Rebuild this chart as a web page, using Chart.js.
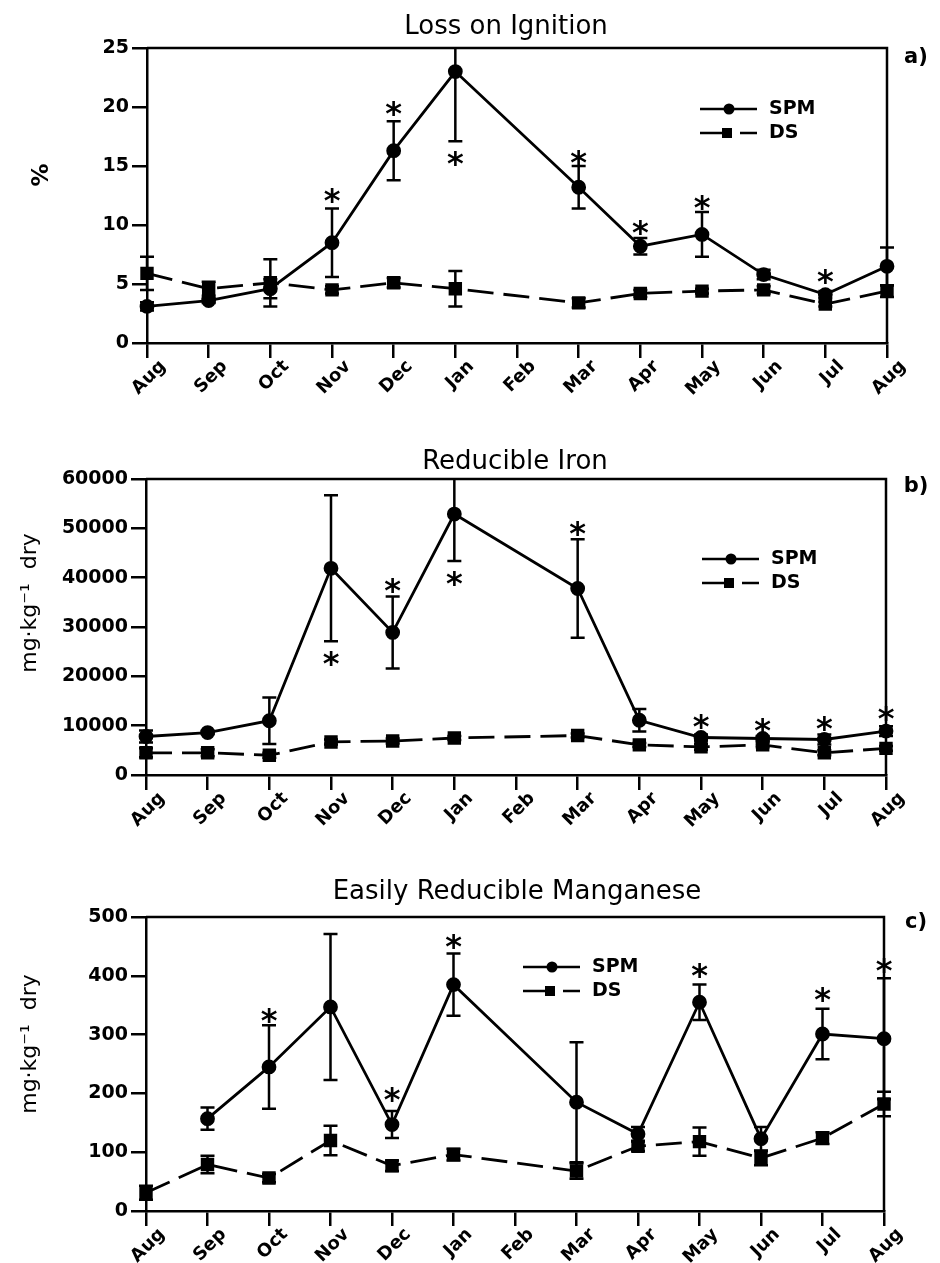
<!DOCTYPE html>
<html>
<head>
<meta charset="utf-8">
<script src="https://cdn.jsdelivr.net/npm/chart.js@4.4.0/dist/chart.umd.min.js"></script>
<style>
  html, body { margin: 0; padding: 0; background: #fff; }
  #wrap { position: relative; width: 940px; height: 1263px; }
  canvas { position: absolute; left: 0; }
</style>
</head>
<body>
<div id="wrap">
  <canvas id="lossChart" width="940" height="415" style="top:0px"></canvas>
  <canvas id="ironChart" width="940" height="420" style="top:415px"></canvas>
  <canvas id="mnChart" width="940" height="428" style="top:835px"></canvas>
</div>
<script>
const months = ['Aug', 'Sep', 'Oct', 'Nov', 'Dec', 'Jan', 'Feb', 'Mar', 'Apr', 'May', 'Jun', 'Jul', 'Aug'];

// a) loss on ignition (%)
const lossSpm    = [3.1, 3.6, 4.6, 8.5, 16.3, 23.0, null, 13.2, 8.2, 9.2, 5.8, 4.1, 6.5];
const lossSpmErr = [0.35, 0.2, 0.8, 2.9, 2.5, 5.9, null, 1.8, 0.7, 1.9, 0.4, 0.3, 1.6];
const lossDs     = [5.9, 4.6, 5.1, 4.5, 5.1, 4.6, null, 3.4, 4.2, 4.4, 4.5, 3.3, 4.4];
const lossDsErr  = [1.4, 0.6, 2.0, 0.3, 0.4, 1.5, null, 0.4, 0.3, 0.2, 0.3, 0.2, 0.5];
const lossStars  = [null, null, null, 12.5, 19.9, 15.6, null, 15.7, 9.8, 11.9, null, 5.6, null];

// b) reducible iron (mg/kg dry)
const ironSpm    = [7800, 8600, 11000, 41900, 28900, 52900, null, 37800, 11100, 7600, 7400, 7200, 8900];
const ironSpmErr = [1200, 300, 4700, 14800, 7300, 9500, null, 10000, 2300, 600, 500, 1000, 1000];
const ironDs     = [4500, 4500, 4000, 6700, 6900, 7500, null, 8000, 6100, 5700, 6100, 4500, 5400];
const ironDsErr  = [900, 700, 500, 500, 500, 400, null, 400, 400, 600, 500, 500, 500];
const ironStars  = [null, null, null, 23600, 38400, 39800, null, 49900, null, 10800, 10100, 10500, 12500];

// c) easily reducible manganese (mg/kg dry)
const mnSpm    = [null, 157, 245, 347, 147, 385, null, 185, 131, 355, 123, 301, 293];
const mnSpmErr = [null, 19, 71, 124, 23, 53, null, 102, 12, 30, 20, 43, 103];
const mnDs     = [31, 79, 56, 120, 77, 96, null, 68, 110, 118, 90, 124, 182];
const mnDsErr  = [12, 15, 7, 25, 9, 10, null, 13, 8, 24, 12, 10, 21];
const mnStars  = [null, null, 333, null, 198, 459, null, null, null, 409, null, 368, 418];

Chart.defaults.font.family = "'DejaVu Sans', sans-serif";
Chart.defaults.color = '#000';

const black = '#000';

const errorBars = {
  id: 'errorBars',
  afterDatasetsDraw(chart) {
    const { ctx, chartArea, scales: { x, y } } = chart;
    ctx.save();
    ctx.beginPath();
    ctx.rect(chartArea.left - 12, chartArea.top, chartArea.width + 24, chartArea.height);
    ctx.clip();
    ctx.strokeStyle = black;
    ctx.lineWidth = 2.5;
    chart.data.datasets.forEach(ds => {
      if (!ds.err) return;
      ds.data.forEach((v, i) => {
        const e = ds.err[i];
        if (v == null || e == null) return;
        const px = x.getPixelForValue(i);
        const top = y.getPixelForValue(v + e);
        const bot = y.getPixelForValue(v - e);
        ctx.beginPath();
        ctx.moveTo(px, top); ctx.lineTo(px, bot);
        ctx.moveTo(px - 7, top); ctx.lineTo(px + 7, top);
        ctx.moveTo(px - 7, bot); ctx.lineTo(px + 7, bot);
        ctx.stroke();
      });
    });
    ctx.restore();
  }
};

function makePanel(id, cfg) {
  const decor = {
    id: 'decor',
    afterDraw(chart) {
      const { ctx, chartArea, scales: { x, y } } = chart;
      ctx.save();
      // frame top + right
      ctx.strokeStyle = black;
      ctx.lineWidth = 2.5;
      ctx.beginPath();
      ctx.moveTo(chartArea.left, chartArea.top);
      ctx.lineTo(chartArea.right, chartArea.top);
      ctx.lineTo(chartArea.right, chartArea.bottom);
      ctx.stroke();

      ctx.fillStyle = black;
      // significance stars
      ctx.font = "bold 32px 'DejaVu Sans'";
      ctx.textAlign = 'center';
      ctx.textBaseline = 'alphabetic';
      const m = ctx.measureText('*');
      const shift = (m.actualBoundingBoxAscent - m.actualBoundingBoxDescent) / 2;
      cfg.stars.forEach((s, i) => {
        if (s == null) return;
        ctx.fillText('*', x.getPixelForValue(i), y.getPixelForValue(s) + shift);
      });

      // panel title
      ctx.textBaseline = 'middle';
      ctx.font = "26px 'DejaVu Sans'";
      ctx.fillText(cfg.title, cfg.titleX, cfg.titleY);

      // panel letter
      ctx.font = "bold 21px 'DejaVu Sans'";
      ctx.fillText(cfg.letter, 916, cfg.letterY);

      // y axis title
      ctx.save();
      ctx.translate(cfg.yTitleX, cfg.yTitleY);
      ctx.rotate(-Math.PI / 2);
      ctx.font = cfg.yTitleFont;
      ctx.fillText(cfg.yTitle, 0, 0);
      ctx.restore();

      // legend
      const lx = cfg.legendX, l1 = cfg.legendY, l2 = cfg.legendY + 24;
      ctx.lineWidth = 2.5;
      ctx.beginPath();
      ctx.moveTo(lx, l1); ctx.lineTo(lx + 57, l1);
      ctx.moveTo(lx, l2); ctx.lineTo(lx + 27, l2);
      ctx.moveTo(lx + 40, l2); ctx.lineTo(lx + 57, l2);
      ctx.stroke();
      ctx.beginPath();
      ctx.arc(lx + 29, l1, 5.5, 0, Math.PI * 2);
      ctx.fill();
      ctx.fillRect(lx + 22, l2 - 5, 10, 10);
      ctx.font = "bold 19px 'DejaVu Sans'";
      ctx.textAlign = 'left';
      ctx.fillText('SPM', lx + 69, l1);
      ctx.fillText('DS', lx + 69, l2);
      ctx.restore();
    }
  };

  const axisGrid = {
    display: true,
    drawOnChartArea: false,
    drawTicks: true,
    tickLength: 15,
    tickWidth: 2.5,
    color: black,
    lineWidth: 2.5
  };

  return new Chart(document.getElementById(id), {
    type: 'line',
    data: {
      labels: months,
      datasets: [
        {
          label: 'SPM',
          data: cfg.spm,
          err: cfg.spmErr,
          borderColor: black,
          backgroundColor: black,
          borderWidth: 2.8,
          pointStyle: 'circle',
          pointRadius: 6,
          spanGaps: true,
          tension: 0
        },
        {
          label: 'DS',
          data: cfg.ds,
          err: cfg.dsErr,
          borderColor: black,
          backgroundColor: black,
          borderWidth: 2.8,
          borderDash: [26, 10],
          pointStyle: 'rect',
          pointRadius: 7.5,
          spanGaps: true,
          tension: 0
        }
      ]
    },
    options: {
      responsive: false,
      animation: false,
      layout: { padding: { top: cfg.padTop, right: cfg.padRight, left: 0, bottom: 0 } },
      plugins: {
        legend: { display: false },
        tooltip: { enabled: false },
        title: { display: false }
      },
      scales: {
        x: {
          type: 'category',
          offset: false,
          grid: axisGrid,
          border: { display: true, color: black, width: 2.5 },
          ticks: {
            autoSkip: false,
            minRotation: 45,
            maxRotation: 45,
            padding: -2,
            labelOffset: 16,
            font: { size: 18, weight: 'bold' }
          },
          afterFit: s => { s.height = cfg.xAxisHeight; }
        },
        y: {
          min: 0,
          max: cfg.yMax,
          grid: axisGrid,
          border: { display: true, color: black, width: 2.5 },
          ticks: {
            stepSize: cfg.yStep,
            padding: 3,
            font: { size: 19, weight: 'bold' },
            callback: v => String(v)
          },
          afterFit: s => { s.width = cfg.yAxisWidth; }
        }
      }
    },
    plugins: [errorBars, decor]
  });
}

makePanel('lossChart', {
  spm: lossSpm, spmErr: lossSpmErr, ds: lossDs, dsErr: lossDsErr, stars: lossStars,
  yMax: 25, yStep: 5,
  title: 'Loss on Ignition', titleX: 506, titleY: 27,
  letter: 'a)', letterY: 58,
  yTitle: '%', yTitleX: 42, yTitleY: 175, yTitleFont: "bold 23px 'DejaVu Sans'",
  legendX: 700, legendY: 109,
  padTop: 48, padRight: 53, xAxisHeight: 72, yAxisWidth: 147
});

makePanel('ironChart', {
  spm: ironSpm, spmErr: ironSpmErr, ds: ironDs, dsErr: ironDsErr, stars: ironStars,
  yMax: 60000, yStep: 10000,
  title: 'Reducible Iron', titleX: 515, titleY: 47,
  letter: 'b)', letterY: 72,
  yTitle: 'mg·kg⁻¹  dry', yTitleX: 30, yTitleY: 188, yTitleFont: "22px 'DejaVu Sans'",
  legendX: 702, legendY: 144,
  padTop: 64, padRight: 54, xAxisHeight: 60, yAxisWidth: 146
});

makePanel('mnChart', {
  spm: mnSpm, spmErr: mnSpmErr, ds: mnDs, dsErr: mnDsErr, stars: mnStars,
  yMax: 500, yStep: 100,
  title: 'Easily Reducible Manganese', titleX: 517, titleY: 57,
  letter: 'c)', letterY: 88,
  yTitle: 'mg·kg⁻¹  dry', yTitleX: 30, yTitleY: 209, yTitleFont: "22px 'DejaVu Sans'",
  legendX: 523, legendY: 132,
  padTop: 82, padRight: 56, xAxisHeight: 52, yAxisWidth: 146
});
</script>
</body>
</html>
